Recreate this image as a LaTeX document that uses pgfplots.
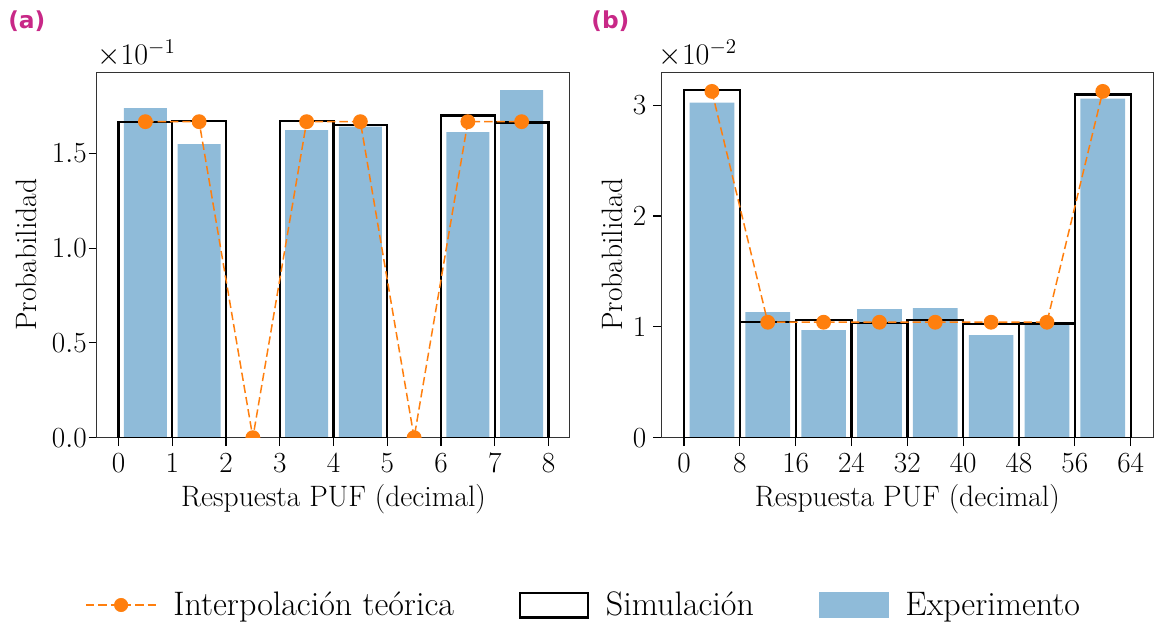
\RequirePackage{fix-cm}
\documentclass[border=0pt]{standalone}
\usepackage{fontspec}
\newfontfamily\panelfont{DejaVu Sans}
\usepackage{pgfplots}
\pgfplotsset{compat=1.18}
\definecolor{expblue}{RGB}{143,187,217}
\definecolor{interp}{RGB}{255,127,14}
\definecolor{panelc}{RGB}{200,40,135}

\pgfplotstableread{
x y
0.5 0.1739
1.5 0.1549
3.5 0.1623
4.5 0.1641
6.5 0.1612
7.5 0.1834
}\expA
\pgfplotstableread{
x y
0.5 0.1667
1.5 0.1669
3.5 0.1669
4.5 0.1651
6.5 0.1699
7.5 0.1662
}\simA
\pgfplotstableread{
x y
0.5 0.1667
1.5 0.1667
2.5 0
3.5 0.1667
4.5 0.1667
5.5 0
6.5 0.1667
7.5 0.1667
}\intA
\pgfplotstableread{
x y
4 0.03024
12 0.01132
20 0.00970
28 0.01159
36 0.01168
44 0.00925
52 0.01015
60 0.03060
}\expB
\pgfplotstableread{
x y
4 0.03138
12 0.01042
20 0.01060
28 0.01036
36 0.01063
44 0.01024
52 0.01030
60 0.03096
}\simB
\pgfplotstableread{
x y
4 0.03125
12 0.0104167
20 0.0104167
28 0.0104167
36 0.0104167
44 0.0104167
52 0.0104167
60 0.03125
}\intB

\pgfplotsset{
  myaxis/.style={
    scale only axis, height=219.4pt, ymin=0,
    scaled y ticks=false, scaled x ticks=false,
    clip marker paths=true,
    axis line style={black!80, line width=0.6pt},
    tick align=outside, xtick pos=left, ytick pos=left,
    major tick length=5pt,
    every tick/.style={black, line width=0.7pt},
    tick label style={font=\fontsize{17.5}{20}\selectfont},
    yticklabel style={anchor=east, inner sep=0pt, xshift=-1pt},
    xticklabel style={anchor=north, inner sep=0pt, yshift=-4.5pt},
    label style={font=\fontsize{17.7}{21}\selectfont},
    xlabel style={at={(axis description cs:0.5,0)}, anchor=base, yshift=-41pt},
    ylabel style={anchor=base},
  },
  expstyle/.style={ybar, bar shift=0pt, fill=expblue, draw=none, forget plot},
  simstyle/.style={ybar, bar shift=0pt, fill=none, draw=black, line width=1.4pt, forget plot},
  intstyle/.style={interp, line width=0.9pt, dash pattern=on 5pt off 2.4pt, mark=*, mark size=4pt, mark options={solid, draw=none, fill=interp}, forget plot},
}

\begin{document}
\begin{tikzpicture}
\useasboundingbox (-58.2pt,-115.4pt) rectangle (634.8pt,262.6pt);
\begin{axis}[myaxis, name=A, width=283.8pt,
  xmin=-0.4, xmax=8.4, ymax=0.1929,
  xtick={0,1,2,3,4,5,6,7,8},
  ytick={0,0.05,0.1,0.15},
  yticklabels={$0.0$,$0.5$,$1.0$,$1.5$},
  xlabel={Respuesta PUF (decimal)},
  ylabel={Probabilidad},
  ylabel style={at={(axis description cs:-0.1269,0.5)}},
  legend style={at={(-0.0254,-0.4576)}, anchor=west, draw=none, fill=none, inner sep=0pt,
    font=\fontsize{20.4}{24}\selectfont, nodes={inner sep=0pt},
    /tikz/every even column/.append style={column sep=39pt},
    /tikz/every odd column/.append style={column sep=10pt}},
  legend columns=3, legend cell align=left,
]
\addlegendimage{legend image code/.code={\draw[interp, line width=0.9pt, dash pattern=on 5pt off 2.4pt] (0pt,0pt) -- (42pt,0pt); \fill[interp] (21pt,0pt) circle (4pt);}}
\addlegendentry{Interpolación teórica}
\addlegendimage{legend image code/.code={\draw[black, line width=1.4pt] (0pt,-7.4pt) rectangle (40.8pt,7.4pt);}}
\addlegendentry{Simulación}
\addlegendimage{legend image code/.code={\fill[expblue] (0pt,-7.4pt) rectangle (41.5pt,7.4pt);}}
\addlegendentry{Experimento}
\addplot[expstyle, bar width=0.8] table[x=x,y=y] {\expA};
\addplot[simstyle, bar width=1] table[x=x,y=y] {\simA};
\addplot[intstyle] table[x=x,y=y] {\intA};
\end{axis}
\begin{axis}[myaxis, name=B, width=294.8pt, at={(338.8pt,0pt)},
  xmin=-3.2, xmax=67.2, ymax=0.033,
  xtick={0,8,16,24,32,40,48,56,64},
  ytick={0,0.01,0.02,0.03},
  yticklabels={$0$,$1$,$2$,$3$},
  xlabel={Respuesta PUF (decimal)},
  ylabel={Probabilidad},
  ylabel style={at={(axis description cs:-0.0807,0.5)}},
  yticklabel style={xshift=-3pt},
]
\addplot[expstyle, bar width=6.4] table[x=x,y=y] {\expB};
\addplot[simstyle, bar width=8] table[x=x,y=y] {\simB};
\addplot[intstyle] table[x=x,y=y] {\intB};
\end{axis}
\node[anchor=south west, inner sep=0pt, font=\fontsize{18}{21}\selectfont] at ([yshift=3pt]A.north west) {$\times10^{-1}$};
\node[anchor=south west, inner sep=0pt, font=\fontsize{18}{21}\selectfont] at ([yshift=3pt,xshift=-2pt]B.north west) {$\times10^{-2}$};
\node[anchor=west, inner sep=0pt, text=panelc, font=\panelfont\bfseries\fontsize{14}{17}\selectfont] at (-53.4pt,249.7pt) {(a)};
\node[anchor=west, inner sep=0pt, text=panelc, font=\panelfont\bfseries\fontsize{14}{17}\selectfont] at (296.4pt,249.7pt) {(b)};
\end{tikzpicture}
\end{document}
